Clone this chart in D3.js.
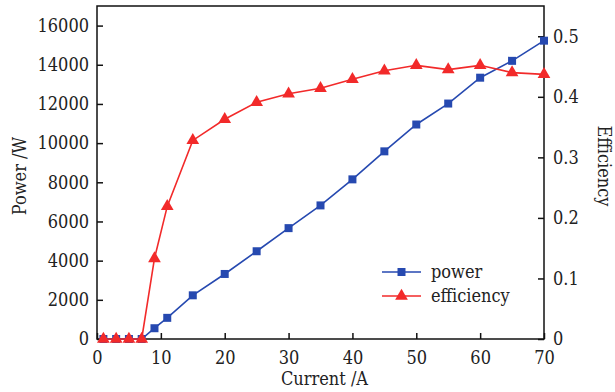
<!DOCTYPE html>
<html>
<head>
<meta charset="utf-8">
<script src="https://cdn.jsdelivr.net/npm/d3@7"></script>
<style>
  body { margin: 0; background: #fff; }
  text { font-family: "DejaVu Serif Condensed", "DejaVu Serif", serif; font-stretch: condensed; fill: #222; }
</style>
</head>
<body>
<div id="chart"></div>
<script>
// data
const current = [1, 3, 5, 7, 9, 11, 15, 20, 25, 30, 35, 40, 45, 50, 55, 60, 65, 70]
const power = [0, 0, 0, 0, 550, 1080, 2230, 3320, 4480, 5660, 6820, 8150, 9580, 10950, 12020, 13340, 14200, 15230]
const efficiency = [0, 0, 0, 0, 0.133, 0.219, 0.328, 0.363, 0.391, 0.405, 0.414, 0.429, 0.443, 0.452, 0.445, 0.452, 0.440, 0.437]

const xTicks = [0, 10, 20, 30, 40, 50, 60, 70]
const powerTicks = [0, 2000, 4000, 6000, 8000, 10000, 12000, 14000, 16000]
const effTicks = [0, 0.1, 0.2, 0.3, 0.4, 0.5]

const width = 615,
  height = 392

const plotLeft = 97,
  plotRight = 544,
  plotTop = 6,
  plotBottom = 339

const fontSize = 18

const blue = '#2649b0',
  red = '#f22a2a'

let svg = d3.select('#chart')
  .append('svg')
  .attr('width', width)
  .attr('height', height)

let xScale = d3.scaleLinear().domain([0, 70]).range([plotLeft, plotRight])
let yPower = d3.scaleLinear().domain([0, 17000]).range([plotBottom, plotTop])
let yEff = d3.scaleLinear().domain([0, 0.55]).range([plotBottom, plotTop])

// axes, ticks pointing inward
let xAxis = d3.axisBottom(xScale)
  .tickValues(xTicks)
  .tickSizeInner(-6)
  .tickSizeOuter(0)
  .tickPadding(12)

let yAxisL = d3.axisLeft(yPower)
  .tickValues(powerTicks)
  .tickFormat(d3.format('d'))
  .tickSizeInner(-6)
  .tickSizeOuter(0)
  .tickPadding(8)

let yAxisR = d3.axisRight(yEff)
  .tickValues(effTicks)
  .tickFormat(d => d === 0 ? '0' : d3.format('.1f')(d))
  .tickSizeInner(-6)
  .tickSizeOuter(0)
  .tickPadding(9)

let styleAxis = g => {
  g.attr('font-family', null)
  g.select('.domain').remove()
  g.selectAll('.tick line').attr('stroke', '#111').attr('stroke-width', 1.5)
  g.selectAll('.tick text')
    .attr('font-size', fontSize)
    .attr('fill', '#222')
}

svg.append('g')
  .attr('transform', `translate(0, ${plotBottom})`)
  .call(xAxis)
  .call(styleAxis)

svg.append('g')
  .attr('transform', `translate(${plotLeft}, 0)`)
  .call(yAxisL)
  .call(styleAxis)

svg.append('g')
  .attr('transform', `translate(${plotRight}, 0)`)
  .call(yAxisR)
  .call(styleAxis)

// frame
svg.append('rect')
  .attr('x', plotLeft)
  .attr('y', plotTop)
  .attr('width', plotRight - plotLeft)
  .attr('height', plotBottom - plotTop)
  .attr('fill', 'none')
  .attr('stroke', '#111')
  .attr('stroke-width', 1.5)

// series
let powerData = current.map((c, i) => [c, power[i]])
let effData = current.map((c, i) => [c, efficiency[i]])

let plot = svg.append('g')

plot.append('path')
  .datum(powerData)
  .attr('fill', 'none')
  .attr('stroke', blue)
  .attr('stroke-width', 1.6)
  .attr('d', d3.line().x(d => xScale(d[0])).y(d => yPower(d[1])))

plot.append('path')
  .datum(effData)
  .attr('fill', 'none')
  .attr('stroke', red)
  .attr('stroke-width', 1.6)
  .attr('d', d3.line().x(d => xScale(d[0])).y(d => yEff(d[1])))

let square = d3.symbol().type(d3.symbolSquare).size(64)
let triangle = d3.symbol().type(d3.symbolTriangle).size(70)

plot.selectAll('.pw')
  .data(powerData)
  .enter()
  .append('path')
  .attr('class', 'pw')
  .attr('d', square)
  .attr('fill', blue)
  .attr('transform', d => `translate(${xScale(d[0])}, ${yPower(d[1])})`)

plot.selectAll('.ef')
  .data(effData)
  .enter()
  .append('path')
  .attr('class', 'ef')
  .attr('d', triangle)
  .attr('fill', red)
  .attr('transform', d => `translate(${xScale(d[0])}, ${yEff(d[1])})`)

// legend
let legend = svg.append('g')
const legendItems = [
  { name: 'power', color: blue, sym: square, y: 272 },
  { name: 'efficiency', color: red, sym: triangle, y: 296 }
]
legendItems.forEach(item => {
  legend.append('line')
    .attr('x1', 382).attr('x2', 421)
    .attr('y1', item.y).attr('y2', item.y)
    .attr('stroke', item.color)
    .attr('stroke-width', 1.6)
  legend.append('path')
    .attr('d', item.sym)
    .attr('fill', item.color)
    .attr('transform', `translate(401.5, ${item.y})`)
  legend.append('text')
    .attr('x', 431)
    .attr('y', item.y)
    .attr('dy', '0.32em')
    .attr('font-size', fontSize)
    .text(item.name)
})

// axis titles
svg.append('text')
  .attr('x', (plotLeft + plotRight) / 2 + 4)
  .attr('y', 385)
  .attr('text-anchor', 'middle')
  .attr('font-size', fontSize)
  .text('Current /A')

svg.append('text')
  .attr('transform', 'translate(26, 176) rotate(-90)')
  .attr('text-anchor', 'middle')
  .attr('font-size', fontSize)
  .text('Power /W')

svg.append('text')
  .attr('transform', 'translate(598, 166) rotate(90)')
  .attr('text-anchor', 'middle')
  .attr('font-size', fontSize)
  .text('Efficiency')
</script>
</body>
</html>
